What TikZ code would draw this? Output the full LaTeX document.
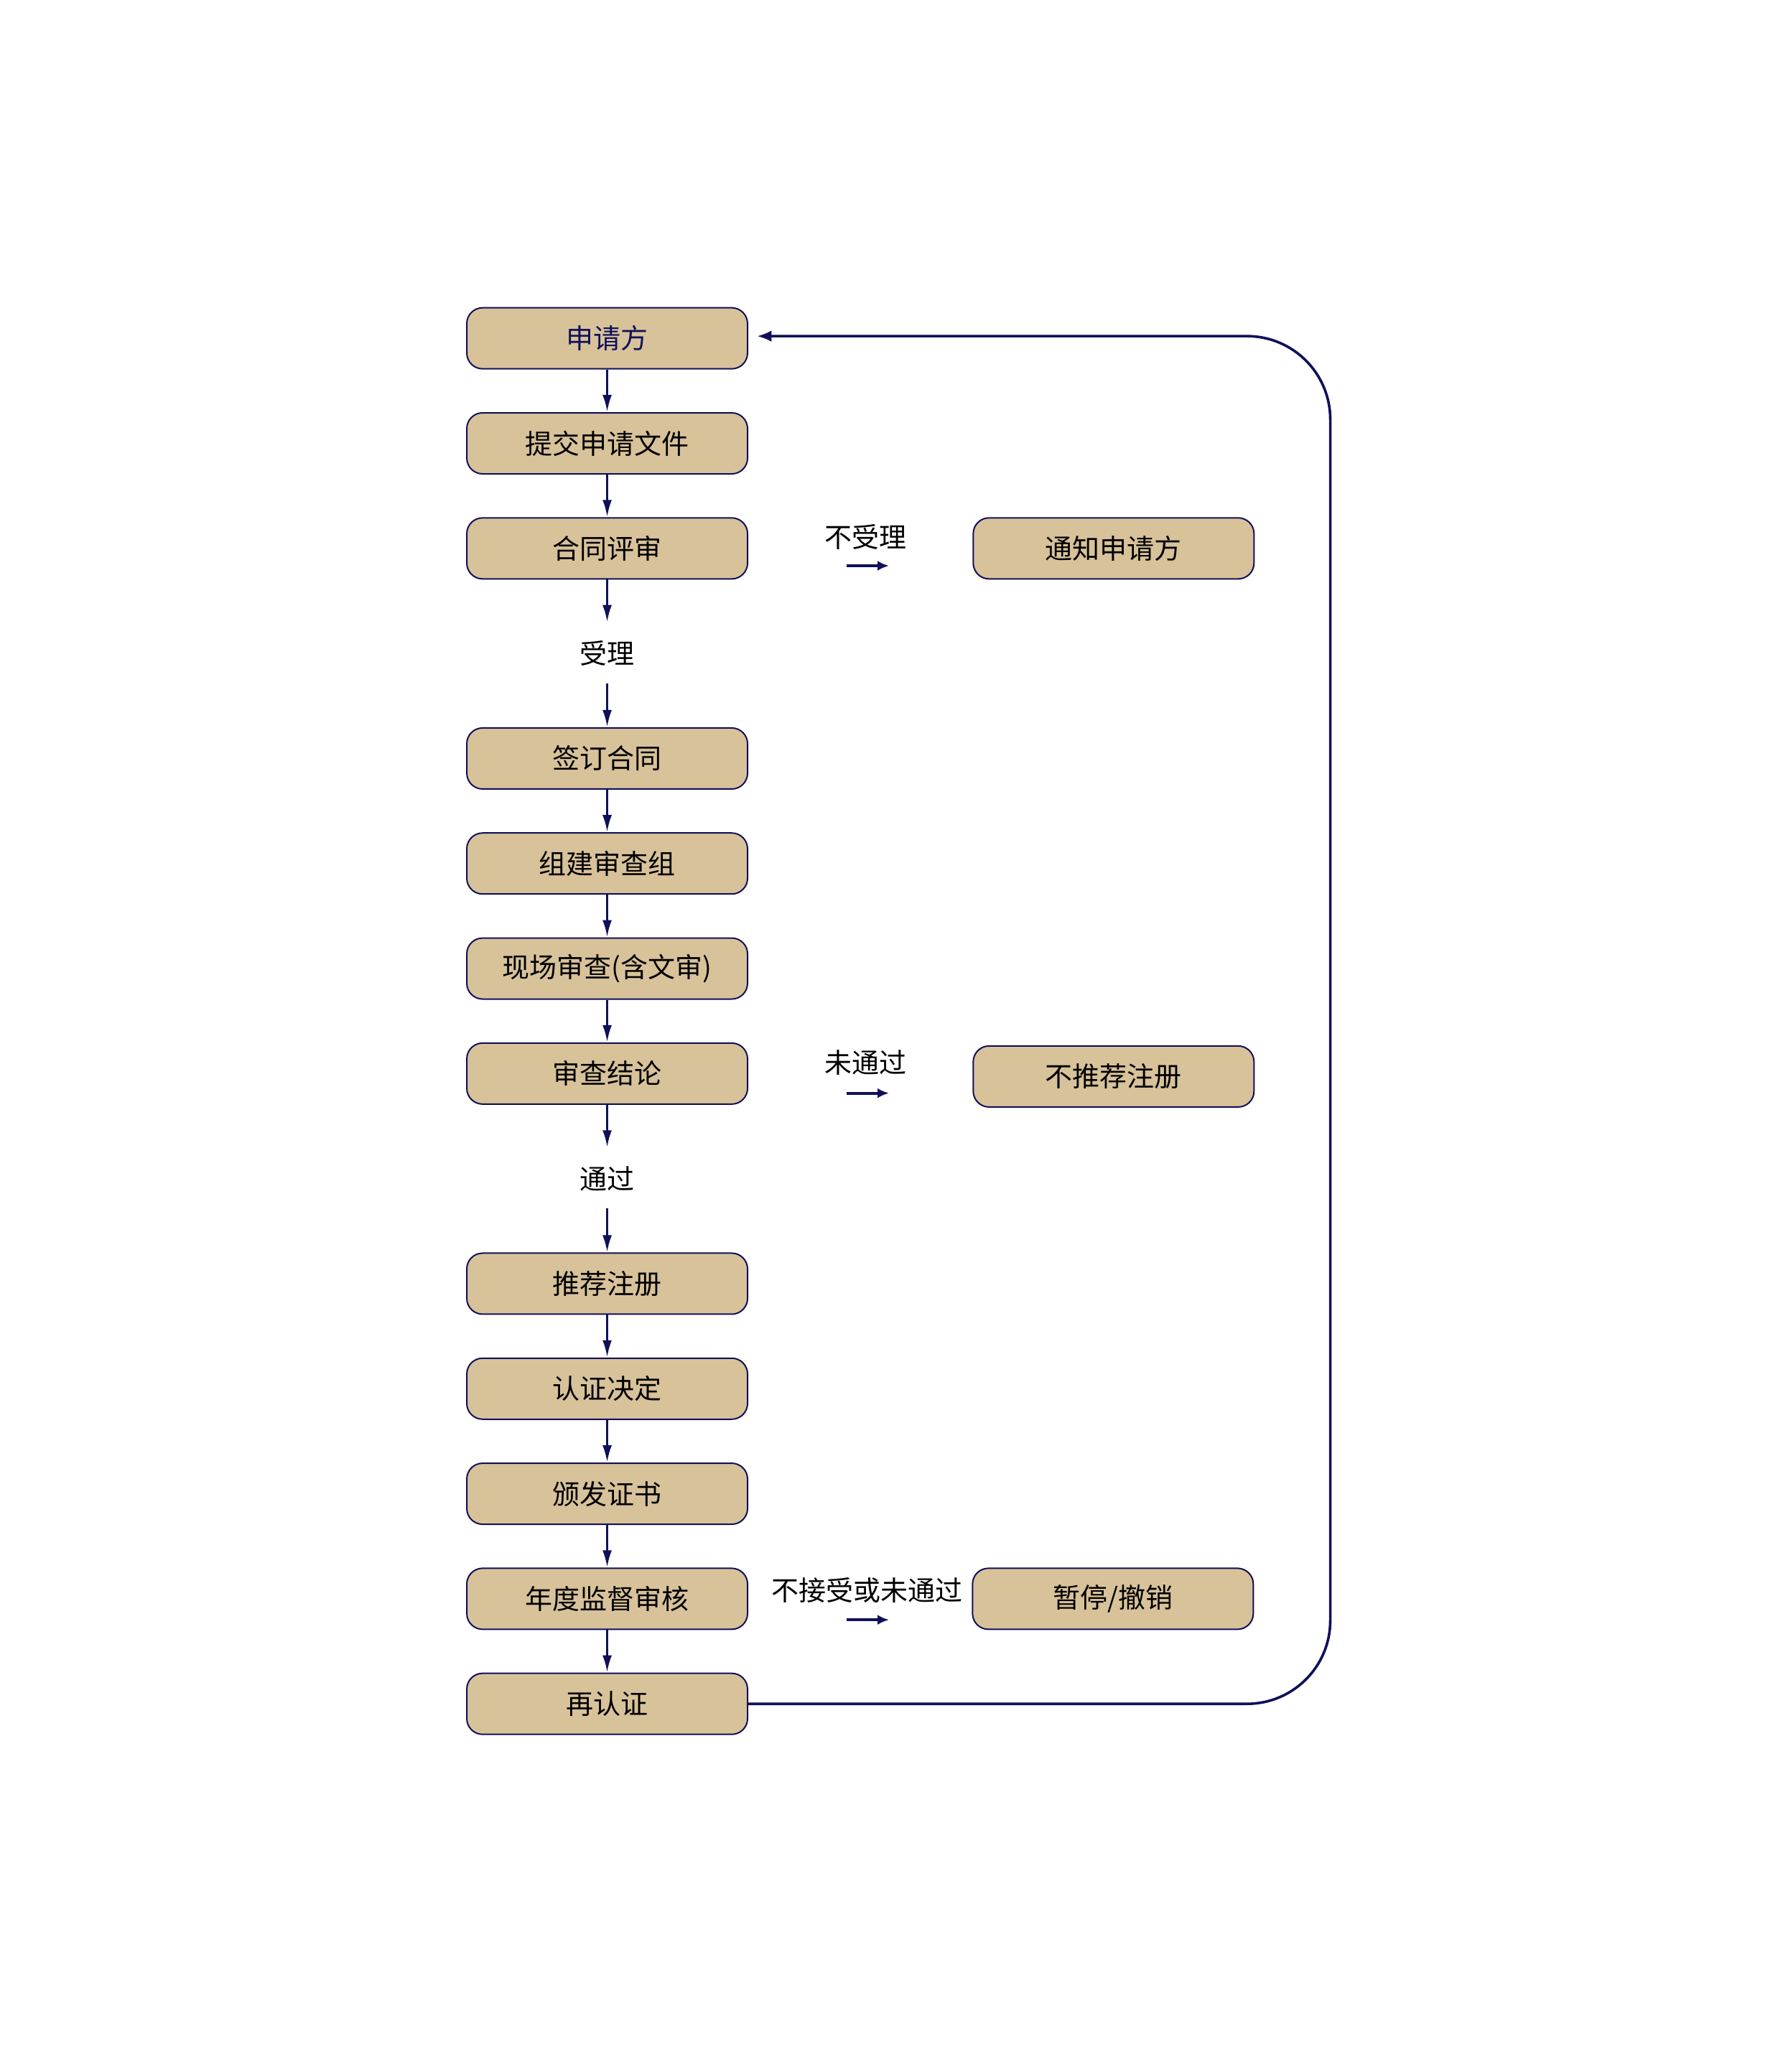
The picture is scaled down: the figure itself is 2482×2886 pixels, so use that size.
\documentclass[tikz,border=0pt]{standalone}
\usepackage{fontspec}
\setmainfont{Noto Sans CJK SC}
\usetikzlibrary{arrows.meta}
\definecolor{boxfill}{HTML}{D8C29A}
\definecolor{navy}{HTML}{10105A}
\begin{document}
\begin{tikzpicture}[x=1.009pt,y=-1.009pt,
  box/.style={draw=navy, line width=2pt, fill=boxfill, rounded corners=22pt,
    minimum width=391pt, minimum height=85pt, inner sep=0pt,
    font=\fontsize{38}{44}\selectfont},
  flow/.style={draw=navy, line width=3.2pt, -{Latex[length=24pt,width=13pt]}},
  side/.style={draw=navy, line width=4pt, -{Latex[length=16pt,width=14pt]}},
  back/.style={draw=navy, line width=3.6pt, rounded corners=116pt, -{Latex[length=20pt,width=16pt]}},
  lbl/.style={font=\fontsize{38}{44}\selectfont, inner sep=0pt}]
\useasboundingbox (0pt,0pt) rectangle (2482pt,-2886pt);
% left column
\node[box, text=navy] (n1) at (838,467) {申请方};
\node[box] (n2) at (838,612) {提交申请文件};
\node[box] (n3) at (838,757) {合同评审};
\node[lbl] (l1) at (838,902) {受理};
\node[box] (n4) at (838,1047) {签订合同};
\node[box] (n5) at (838,1192) {组建审查组};
\node[box] (n6) at (838,1337) {现场审查(含文审)};
\node[box] (n7) at (838,1482) {审查结论};
\node[lbl] (l2) at (838,1627) {通过};
\node[box] (n8) at (838,1772) {推荐注册};
\node[box] (n9) at (838,1917) {认证决定};
\node[box] (n10) at (838,2062) {颁发证书};
\node[box] (n11) at (838,2207) {年度监督审核};
\node[box] (n12) at (838,2352) {再认证};
% right column
\node[box] (r1) at (1537,757) {通知申请方};
\node[box] (r2) at (1537,1486) {不推荐注册};
\node[box] (r3) at (1536,2207) {暂停/撤销};
% side labels
\node[lbl] (s1) at (1195,741) {不受理};
\node[lbl] (s2) at (1195,1467) {未通过};
\node[lbl] (s3) at (1197,2195) {不接受或未通过};
\coordinate (a1s) at (1168,781); \coordinate (a1e) at (1227,781);
\coordinate (a2s) at (1168,1509); \coordinate (a2e) at (1227,1509);
\coordinate (a3s) at (1168,2236); \coordinate (a3e) at (1227,2236);
\draw[side] (a1s) -- (a1e);
\draw[side] (a2s) -- (a2e);
\draw[side] (a3s) -- (a3e);
% free ends around the text labels
\coordinate (t1a) at (838,859); \coordinate (t1b) at (838,943);
\coordinate (t2a) at (838,1584); \coordinate (t2b) at (838,1668);
% vertical flow
\draw[flow] (n1) -- (n2);
\draw[flow] (n2) -- (n3);
\draw[flow] (n3.south) -- (t1a);
\draw[flow] (t1b) -- (n4.north);
\draw[flow] (n4) -- (n5);
\draw[flow] (n5) -- (n6);
\draw[flow] (n6) -- (n7);
\draw[flow] (n7.south) -- (t2a);
\draw[flow] (t2b) -- (n8.north);
\draw[flow] (n8) -- (n9);
\draw[flow] (n9) -- (n10);
\draw[flow] (n10) -- (n11);
\draw[flow] (n11) -- (n12);
% return loop
\coordinate (c1) at (1836,2352);
\coordinate (c2) at (1836,464);
\coordinate (c3) at (1045,464);
\draw[back] (n12.east) -- (c1) -- (c2) -- (c3);
\end{tikzpicture}
\end{document}
